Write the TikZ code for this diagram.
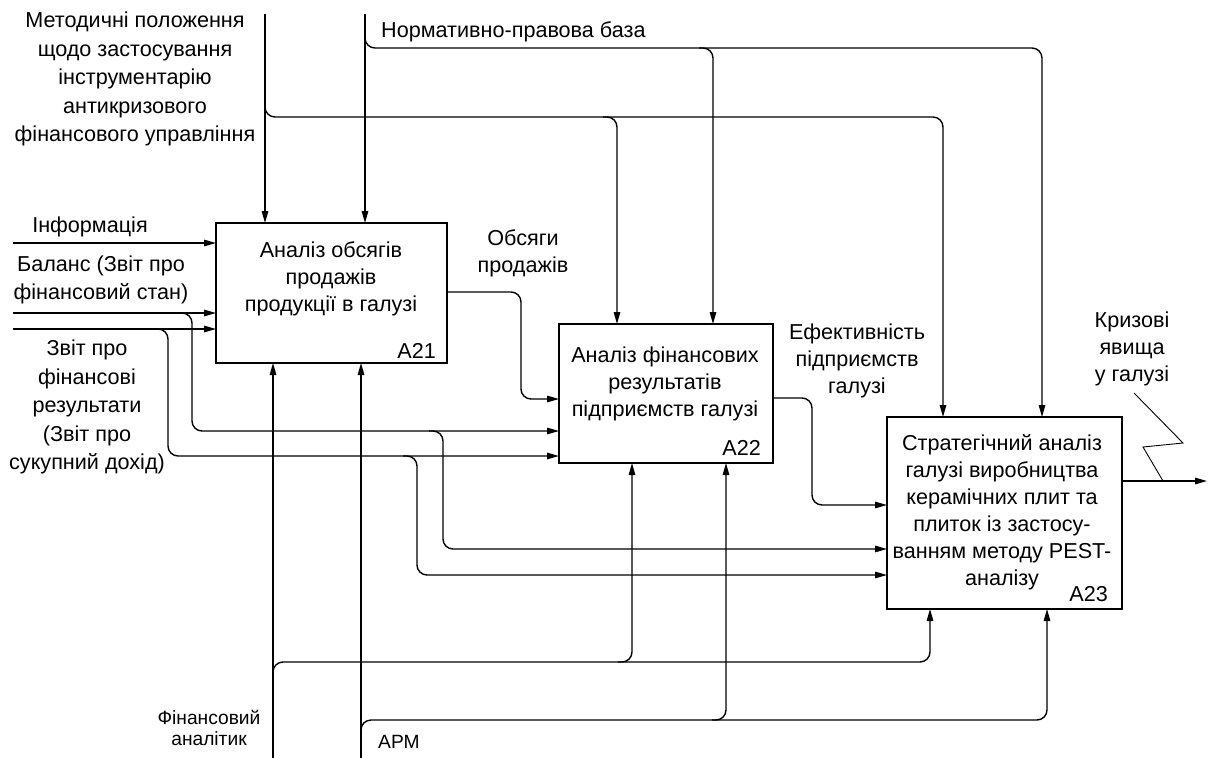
\documentclass[tikz,border=0pt]{standalone}
\usepackage{fontspec}
\setmainfont{Liberation Sans}
\usetikzlibrary{arrows.meta,calc}

\begin{document}
\begin{tikzpicture}[x=1pt, y=-1pt,
    txt/.style={font=\fontsize{21.6}{27}\selectfont, inner sep=0pt, align=center},
    lbl/.style={font=\fontsize{21.6}{28.5}\selectfont, inner sep=0pt, align=center},
    sml/.style={font=\fontsize{19.2}{21.5}\selectfont, inner sep=0pt, align=center},
    blk/.style={draw, line width=2.2pt, anchor=north west, inner sep=0pt, outer sep=0pt},
    link/.style={line width=1.4pt, rounded corners=10pt},
    flow/.style={link, -{Triangle[length=12pt,width=6.5pt]}}]
    \useasboundingbox (0,0) rectangle (1208,758);

    % Блоки
    \node[blk, minimum width=231pt, minimum height=140pt] (a21) at (216,223) {};
    \node[blk, minimum width=214pt, minimum height=139pt] (a22) at (559,324) {};
    \node[blk, minimum width=235pt, minimum height=192pt] (a23) at (887,417) {};

    \node[txt] (a21t) at (331,279) {Аналіз обсягів\\продажів\\продукції в галузі};
    \node[txt, anchor=base east] (a21n) at (436,358) {A21};
    \node[txt] (a22t) at (665,384) {Аналіз фінансових\\результатів\\підприємств галузі};
    \node[txt, anchor=base east] (a22n) at (761,455) {A22};
    \node[txt] (a23t) at (1002,512) {Стратегічний аналіз\\галузі виробництва\\керамічних плит та\\плиток із застосу-\\ванням методу PEST-\\аналізу};
    \node[txt, anchor=base east] (a23n) at (1108,601) {A23};

    % Точки входу
    \coordinate (metsrc) at (265,14);
    \coordinate (nrmsrc) at (365,14);
    \coordinate (metbus) at (265,117);
    \coordinate (nrmbus) at (365,48);
    \coordinate (info) at (13,243);
    \coordinate (bal) at (13,313);
    \coordinate (res) at (13,329);
    \coordinate (balbr) at (192,313);
    \coordinate (resbr) at (168,329);
    \coordinate (balbr2) at (443,431);
    \coordinate (resbr2) at (417,456);
    \coordinate (fin) at (273,758);
    \coordinate (arm) at (361,758);
    \coordinate (finbus) at (273,662);
    \coordinate (armbus) at (361,720);

    % Точки на блоках
    \coordinate (a21o) at (447,292);
    \coordinate (obsbr) at (521,292);
    \coordinate (a22i1) at (559,399);
    \coordinate (a22i2) at (559,431);
    \coordinate (a22i3) at (559,456);
    \coordinate (a22o) at (773,398);
    \coordinate (efbr) at (812,398);
    \coordinate (a22c1) at (617,324);
    \coordinate (a22c2) at (713,324);
    \coordinate (a22m1) at (632,463);
    \coordinate (a22m2) at (726,463);
    \coordinate (a23i1) at (887,505);
    \coordinate (a23i2) at (887,549);
    \coordinate (a23i3) at (887,575);
    \coordinate (a23c1) at (943,417);
    \coordinate (a23c2) at (1042,417);
    \coordinate (a23m1) at (930,609);
    \coordinate (a23m2) at (1047,609);
    \coordinate (a23o) at (1122,481);
    \coordinate (crisis) at (1207,481);

    % Управління
    \draw[flow] (metsrc) -- (metsrc |- a21.north);
    \draw[flow] (nrmsrc) -- (nrmsrc |- a21.north);
    \draw[flow] ($(metbus)+(0,-14)$) -- (metbus) -| (a23c1);
    \draw[flow] ($(a22c1 |- metbus)+(-14,0)$) -- (a22c1 |- metbus) -- (a22c1);
    \draw[flow] ($(nrmbus)+(0,-14)$) -- (nrmbus) -| (a23c2);
    \draw[flow] ($(a22c2 |- nrmbus)+(-14,0)$) -- (a22c2 |- nrmbus) -- (a22c2);

    % Входи
    \draw[flow] (info) -- (info -| a21.west);
    \draw[flow] (bal) -- (bal -| a21.west);
    \draw[flow] (res) -- (res -| a21.west);
    \draw[flow] ($(balbr)+(-14,0)$) -- (balbr) |- (a22i2);
    \draw[flow] ($(resbr)+(-14,0)$) -- (resbr) |- (a22i3);
    \draw[flow] ($(balbr2)+(-14,0)$) -- (balbr2) |- (a23i2);
    \draw[flow] ($(resbr2)+(-14,0)$) -- (resbr2) |- (a23i3);

    % Виходи
    \draw[flow] (a21o) -- (obsbr) |- (a22i1);
    \draw[flow] (a22o) -- (efbr) |- (a23i1);
    \draw[flow] (a23o) -- (crisis);

    % Механізми
    \draw[flow] (fin) -- (fin |- a21.south);
    \draw[flow] (arm) -- (arm |- a21.south);
    \draw[flow] ($(finbus)+(0,14)$) -- (finbus) -| (a23m1);
    \draw[flow] ($(a22m1 |- finbus)+(-14,0)$) -- (a22m1 |- finbus) -- (a22m1);
    \draw[flow] ($(armbus)+(0,14)$) -- (armbus) -| (a23m2);
    \draw[flow] ($(a22m2 |- armbus)+(-14,0)$) -- (a22m2 |- armbus) -- (a22m2);

    % Написи
    \node[lbl] (metl) at (135,79) {Методичні положення\\щодо застосування\\інструментарію\\антикризового\\фінансового управління};
    \node[txt, anchor=west] (nrml) at (381,32) {Нормативно-правова база};
    \node[txt] (infol) at (90,227) {Інформація};
    \node[lbl] (ball) at (101,280) {Баланс (Звіт про\\фінансовий стан)};
    \node[lbl] (resl) at (87,407) {Звіт про\\фінансові\\результати\\(Звіт про\\сукупний дохід)};
    \node[txt] (obsl) at (523,253) {Обсяги\\продажів};
    \node[txt] (efl) at (857,361) {Ефективність\\підприємств\\галузі};
    \node[txt] (krzl) at (1132,349) {Кризові\\явища\\у галузі};
    \node[sml] (finl) at (209,728) {Фінансовий\\аналітик};
    \node[sml, anchor=west] (arml) at (378,742) {АРМ};

    % Блискавка
    \draw[line width=0.9pt] (1134,393) -- (1183,443) -- (1143,447) -- (a23o -| 1163,0);
\end{tikzpicture}
\end{document}
